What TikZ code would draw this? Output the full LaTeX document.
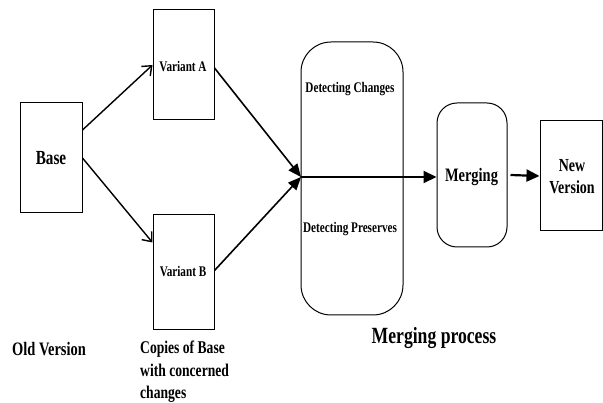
\documentclass[tikz,border=0pt]{standalone}
\usepackage{fontspec}
\setmainfont{Liberation Serif}[FakeStretch=0.76]
\usetikzlibrary{arrows.meta}
\begin{document}
\begin{tikzpicture}[x=1pt,y=-1pt,
  box/.style={draw, line width=1pt, inner sep=0pt},
  lbl/.style={font=\bfseries, inner sep=0pt, anchor=base},
  openarrow/.style={line width=1.4pt, -{Straight Barb[length=8pt,width=13pt,line width=1.4pt]}},
  fillarrow/.style={line width=1.6pt, -{Triangle[length=13pt,width=11pt]}},
]
\useasboundingbox (0,0) rectangle (603,403);

% boxes
\node[box, minimum width=62pt, minimum height=110pt] (base) at (51,158) {};
\node[box, minimum width=61pt, minimum height=110pt] (va) at (183.5,65) {};
\node[box, minimum width=61pt, minimum height=115pt] (vb) at (183.5,272.5) {};
\node[box, rounded corners=30pt, minimum width=102pt, minimum height=273pt] (det) at (352,178.5) {};
\node[box, rounded corners=20pt, minimum width=70pt, minimum height=144pt] (merg) at (472,175) {};
\node[box, minimum width=62pt, minimum height=110pt] (nv) at (571,176) {};

% texts inside boxes
\node[lbl, font=\bfseries\fontsize{20}{22}\selectfont] (tbase) at (51,165) {Base};
\node[lbl, font=\bfseries\fontsize{14.7}{17}\selectfont] (tva) at (183,72) {Variant A};
\node[lbl, font=\bfseries\fontsize{14.7}{17}\selectfont] (tvb) at (183,277) {Variant B};
\node[lbl, font=\bfseries\fontsize{14.7}{16}\selectfont] (tdc) at (350,93) {Detecting Changes};
\node[lbl, font=\bfseries\fontsize{14.7}{16}\selectfont] (tdp) at (350,233) {Detecting Preserves};
\node[lbl, font=\bfseries\fontsize{19}{22}\selectfont] (tmerg) at (471.5,182) {Merging};
\node[lbl, font=\bfseries\fontsize{18.4}{22}\selectfont] (tnv1) at (572,172) {New};
\node[lbl, font=\bfseries\fontsize{18.4}{22}\selectfont] (tnv2) at (572,194) {Version};

% captions
\node[lbl, font=\bfseries\fontsize{19}{20}\selectfont] (cold) at (49,356) {Old Version};
\node[lbl, font=\bfseries\fontsize{17.9}{24}\selectfont, anchor=base west] (cop1) at (140,354) {Copies of Base};
\node[lbl, font=\bfseries\fontsize{17.9}{24}\selectfont, anchor=base west] (cop2) at (140,376.5) {with concerned};
\node[lbl, font=\bfseries\fontsize{17.9}{24}\selectfont, anchor=base west] (cop3) at (140,398.5) {changes};
\node[lbl, font=\bfseries\fontsize{23.2}{24}\selectfont] (cmp) at (434,344) {Merging process};

% connectors
\coordinate (conv) at (301,177);
\draw[openarrow] ([yshift=28pt]base.east) -- (va.west);
\draw[openarrow] (base.east) -- ([yshift=30pt]vb.west);
\draw[fillarrow] ([yshift=-3pt]va.east) -- (conv);
\draw[fillarrow] ([yshift=2pt]vb.east) -- (conv);
\draw[line width=2.2pt, -{Triangle[length=13pt,width=12pt]}] (conv) -- (conv -| merg.west);
\draw[line width=2.2pt, -{Triangle[length=13pt,width=12pt]}] ([xshift=3pt]merg.east) -- (nv.west);
\end{tikzpicture}
\end{document}
